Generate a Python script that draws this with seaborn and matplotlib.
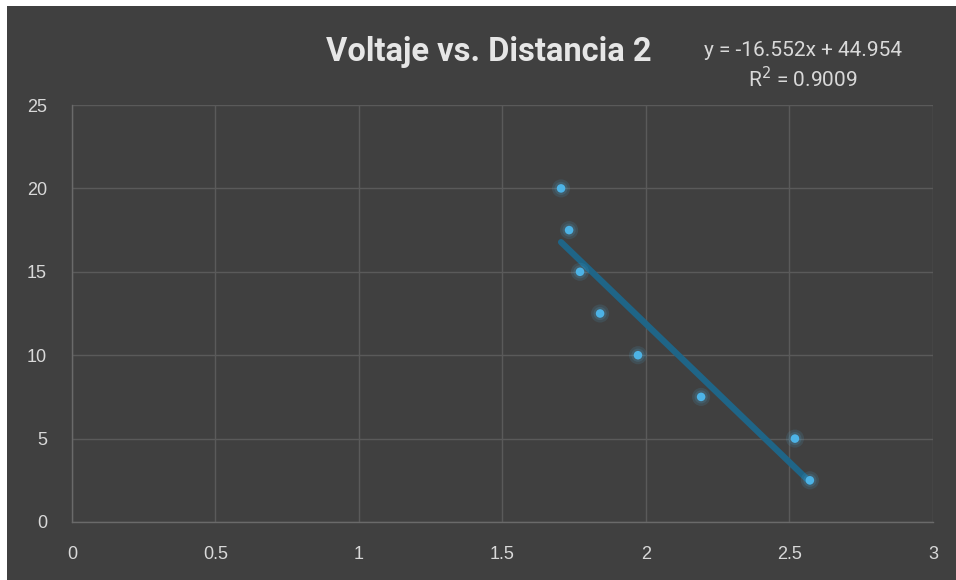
import numpy as np
import pandas as pd
import matplotlib
matplotlib.use("Agg")
import matplotlib.pyplot as plt
import seaborn as sns
from matplotlib.patches import Rectangle

distancia = [1.704, 1.732, 1.770, 1.840, 1.972, 2.192, 2.519, 2.571]
voltaje = [20.0, 17.5, 15.0, 12.5, 10.0, 7.5, 5.0, 2.5]
x_ticks = [0, 0.5, 1, 1.5, 2, 2.5, 3]
x_labels = ["0", "0.5", "1", "1.5", "2", "2.5", "3"]
y_ticks = [0, 5, 10, 15, 20, 25]
title = "Voltaje vs. Distancia 2"
equation = "y = -16.552x + 44.954"
r2_label = "R$^2$ = 0.9009"

df = pd.DataFrame({"Distancia": distancia, "Voltaje": voltaje})

sns.set_theme(style="dark")
plt.rcParams["font.family"] = ["Roboto", "DejaVu Sans"]

BG = "#404040"
fig = plt.figure(figsize=(9.56, 5.80), dpi=100, facecolor="white")
fig.patches.append(Rectangle((7 / 956, 0), 1 - 7 / 956, 1 - 6 / 580,
                             transform=fig.transFigure, facecolor=BG,
                             edgecolor="none", zorder=-10))
ax = fig.add_axes([72 / 956, 1 - 522 / 580, (933 - 72) / 956, (522 - 105) / 580])
ax.set_facecolor(BG)

# trendline
coef = np.polyfit(df["Distancia"], df["Voltaje"], 1)
xs = np.array([min(distancia), max(distancia)])
ax.plot(xs, np.polyval(coef, xs), color="#1f6587", lw=4.5, solid_capstyle="round", zorder=3)

# glow + points
sns.scatterplot(data=df, x="Distancia", y="Voltaje", ax=ax, s=170, color="#4fb5e8",
                alpha=0.12, edgecolor="none", zorder=4, legend=False)
sns.scatterplot(data=df, x="Distancia", y="Voltaje", ax=ax, s=90, color="#4fb5e8",
                alpha=0.15, edgecolor="none", zorder=4, legend=False)
sns.scatterplot(data=df, x="Distancia", y="Voltaje", ax=ax, s=38, color="#4db3e6",
                edgecolor="none", zorder=5, legend=False)

ax.set_xlim(0, 3)
ax.set_ylim(0, 25)
ax.set_xticks(x_ticks)
ax.set_xticklabels(x_labels)
ax.set_yticks(y_ticks)
ax.grid(True, color="#5a5a5a", lw=1.0)
ax.set_axisbelow(True)
for side in ["top", "right"]:
    ax.spines[side].set_visible(False)
for side in ["left", "bottom"]:
    ax.spines[side].set_color("#6a6a6a")
    ax.spines[side].set_linewidth(1.0)
ax.tick_params(axis="both", colors="#d9d9d9", labelsize=13, length=0)
ax.tick_params(axis="x", pad=17)
ax.tick_params(axis="y", pad=18)
for lab in ax.get_xticklabels() + ax.get_yticklabels():
    lab.set_family(["Liberation Sans", "DejaVu Sans"])
ax.set_xlabel("")
ax.set_ylabel("")

fig.text(489 / 956, 1 - 52 / 580, title, ha="center", va="center", color="#e6e6e6",
         fontsize=23.5, fontweight="bold", family=["Roboto", "DejaVu Sans"])
fig.text(803 / 956, 1 - 50 / 580, equation, ha="center", va="center", color="#d9d9d9",
         fontsize=15, family=["Roboto", "DejaVu Sans"])
fig.text(803 / 956, 1 - 79 / 580, r2_label, ha="center", va="center", color="#d9d9d9",
         fontsize=15, family=["Roboto", "DejaVu Sans"])

fig.savefig("out.png", dpi=100, facecolor=fig.get_facecolor())
